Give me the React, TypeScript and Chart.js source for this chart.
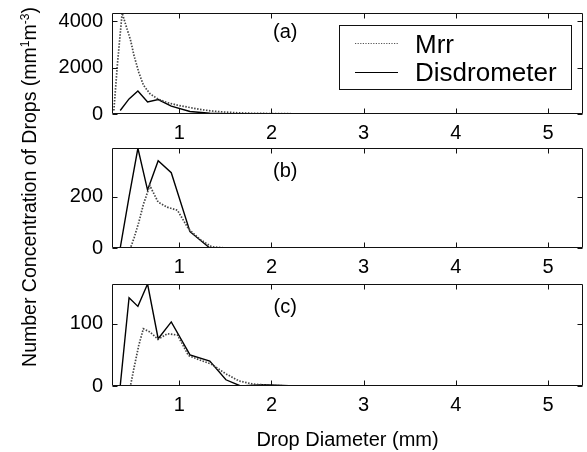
import React, { useEffect, useRef } from "react";
import { Chart, registerables } from "chart.js";
Chart.register(...registerables);

const FONT = "'Liberation Sans', Arial, Helvetica, sans-serif";

// ---- data ----
const xTicks = [1, 2, 3, 4, 5];
const xMin = 0.27;
const xMax = 5.38;

const mrrDiameters = [0.29, 0.33, 0.38, 0.43, 0.47, 0.51, 0.56, 0.61, 0.68, 0.77, 0.87, 0.98, 1.1, 1.22, 1.35, 1.5, 1.65, 1.8, 2.0, 2.2, 2.45, 2.75, 3.1, 3.5, 3.95, 4.4, 4.85];
const disdroDiameters = [0.359, 0.455, 0.551, 0.656, 0.771, 0.913, 1.116, 1.331, 1.506, 1.665, 1.912, 2.259];

const mrrA = [150, 2200, 4350, 3700, 3200, 2500, 1800, 1250, 880, 640, 490, 380, 290, 200, 130, 80, 50, 30, 20, 12, 6, 3, 0, 0, 0, 0, 0];
const mrrB = [0, 0, 0, 0, 0, 40, 100, 170, 245, 180, 160, 148, 75, 35, 5, 0, 0, 0, 0, 0, 0, 0, 0, 0, 0, 0, 0];
const mrrC = [0, 0, 0, 0, 0, 30, 65, 92, 87, 75, 84, 82, 49, 42, 35, 20, 8, 3, 1, 0, 0, 0, 0, 0, 0, 0, 0];

const disdroA = [150, 650, 990, 520, 620, 340, 110, 30, 10, 4, 2, 0];
const disdroB = [0, 200, 391, 227, 342, 295, 64, 0, 0, 0, 0, 0];
const disdroC = [0, 142, 128, 164, 76, 103, 50, 40, 10, 0, 2, 0];

const yTicksA = [0, 2000, 4000];
const yTicksB = [0, 200];
const yTicksC = [0, 100];

const seriesNames = ["Mrr", "Disdrometer"];
const panelLabels = ["(a)", "(b)", "(c)"];

type PanelCfg = {
  top: number;
  height: number;
  padTop: number;
  xHeight: number;
  yMax: number;
  yTicks: number[];
  mrr: number[];
  disdro: number[];
  label: string;
  labelY: number;
  legend: boolean;
  xTitle: boolean;
};

const panels: PanelCfg[] = [
  { top: 0, height: 140, padTop: 13, xHeight: 26, yMax: 4350, yTicks: yTicksA, mrr: mrrA, disdro: disdroA, label: panelLabels[0], labelY: 3530, legend: true, xTitle: false },
  { top: 140, height: 135, padTop: 8, xHeight: 27, yMax: 392, yTicks: yTicksB, mrr: mrrB, disdro: disdroB, label: panelLabels[1], labelY: 298, legend: false, xTitle: false },
  { top: 275, height: 177, padTop: 9, xHeight: 66, yMax: 164, yTicks: yTicksC, mrr: mrrC, disdro: disdroC, label: panelLabels[2], labelY: 127, legend: false, xTitle: true },
];

const W = 587;
const Y_AXIS_W = 112;
const PAD_RIGHT = 4;

function makeFramePlugin(cfg: PanelCfg) {
  return {
    id: "frame",
    afterDraw(chart: any) {
      const { ctx, chartArea: a, scales } = chart;
      const xs = scales.x;
      const ys = scales.y;
      const L = Math.round(a.left) + 0.5;
      const R = Math.round(a.right) - 0.5;
      const T = Math.round(a.top) + 0.5;
      const B = Math.round(a.bottom) - 0.5;
      const tl = 5;
      ctx.save();
      ctx.strokeStyle = "#111";
      ctx.lineWidth = 1;
      ctx.setLineDash([]);
      ctx.beginPath();
      ctx.rect(L, T, R - L, B - T);
      xTicks.forEach((v) => {
        const px = Math.round(xs.getPixelForValue(v)) + 0.5;
        ctx.moveTo(px, B);
        ctx.lineTo(px, B - tl);
        ctx.moveTo(px, T);
        ctx.lineTo(px, T + tl);
      });
      cfg.yTicks.forEach((v) => {
        const py = Math.round(ys.getPixelForValue(v)) + 0.5;
        ctx.moveTo(L, py);
        ctx.lineTo(L + tl, py);
        ctx.moveTo(R, py);
        ctx.lineTo(R - tl, py);
      });
      ctx.stroke();

      // panel label
      ctx.fillStyle = "#000";
      ctx.font = `20px ${FONT}`;
      ctx.textAlign = "center";
      ctx.textBaseline = "middle";
      ctx.fillText(cfg.label, xs.getPixelForValue(2.15), ys.getPixelForValue(cfg.labelY));

      if (cfg.legend) {
        const bw = 232;
        const bh = 64;
        const bx = Math.round(a.right) - 12 - bw;
        const by = Math.round(a.top) + 12;
        ctx.fillStyle = "#fff";
        ctx.fillRect(bx, by, bw, bh);
        ctx.strokeStyle = "#111";
        ctx.lineWidth = 1;
        ctx.strokeRect(bx + 0.5, by + 0.5, bw, bh);
        ctx.beginPath();
        ctx.strokeStyle = "#555";
        ctx.lineWidth = 1.2;
        ctx.setLineDash([1.2, 1.4]);
        ctx.moveTo(bx + 16, by + 18.5);
        ctx.lineTo(bx + 59, by + 18.5);
        ctx.stroke();
        ctx.beginPath();
        ctx.setLineDash([]);
        ctx.strokeStyle = "#000";
        ctx.lineWidth = 1.2;
        ctx.moveTo(bx + 16, by + 47.5);
        ctx.lineTo(bx + 59, by + 47.5);
        ctx.stroke();
        ctx.fillStyle = "#000";
        ctx.font = `26px ${FONT}`;
        ctx.textAlign = "left";
        ctx.textBaseline = "middle";
        ctx.fillText(seriesNames[0], bx + 76, by + 21);
        ctx.fillText(seriesNames[1], bx + 76, by + 49);
      }
      ctx.restore();
    },
  };
}

function Panel({ cfg }: { cfg: PanelCfg }) {
  const ref = useRef<HTMLCanvasElement | null>(null);
  useEffect(() => {
    if (!ref.current) return;
    const chart = new Chart(ref.current, {
      type: "line",
      data: {
        datasets: [
          {
            label: seriesNames[0],
            data: mrrDiameters.map((d, i) => ({ x: d, y: cfg.mrr[i] })),
            borderColor: "#444",
            borderWidth: 1.7,
            borderDash: [1.5, 1.5],
            pointRadius: 0,
            fill: false,
            tension: 0,
          },
          {
            label: seriesNames[1],
            data: disdroDiameters.map((d, i) => ({ x: d, y: cfg.disdro[i] })),
            borderColor: "#000",
            borderWidth: 1.4,
            pointRadius: 0,
            fill: false,
            tension: 0,
          },
        ],
      },
      options: {
        animation: false,
        responsive: false,
        maintainAspectRatio: false,
        devicePixelRatio: 1,
        layout: { padding: { top: cfg.padTop, right: PAD_RIGHT, left: 0, bottom: 0 } },
        plugins: { legend: { display: false }, tooltip: { enabled: false } },
        scales: {
          x: {
            type: "linear",
            min: xMin,
            max: xMax,
            grid: { display: false, drawTicks: false },
            border: { display: false },
            afterBuildTicks: (s: any) => {
              s.ticks = xTicks.map((v) => ({ value: v }));
            },
            afterFit: (s: any) => {
              s.height = cfg.xHeight;
              s.paddingLeft = 0;
              s.paddingRight = 0;
              s.paddingTop = 0;
              s.paddingBottom = 0;
            },
            ticks: {
              autoSkip: false,
              maxRotation: 0,
              padding: 7,
              color: "#000",
              font: { family: FONT, size: 20 },
              callback: (v: any) => String(v),
            },
            title: {
              display: cfg.xTitle,
              text: "Drop Diameter (mm)",
              color: "#000",
              font: { family: FONT, size: 20 },
              padding: { top: 0, bottom: 0 },
            },
          },
          y: {
            type: "linear",
            min: 0,
            max: cfg.yMax,
            grid: { display: false, drawTicks: false },
            border: { display: false },
            afterBuildTicks: (s: any) => {
              s.ticks = cfg.yTicks.map((v) => ({ value: v }));
            },
            afterFit: (s: any) => {
              s.width = Y_AXIS_W;
              s.paddingTop = 0;
              s.paddingBottom = 0;
              s.paddingLeft = 0;
              s.paddingRight = 0;
            },
            ticks: {
              padding: 9,
              color: "#000",
              font: { family: FONT, size: 20 },
              callback: (v: any) => String(v),
            },
          },
        },
      },
      plugins: [makeFramePlugin(cfg)],
    } as any);
    return () => chart.destroy();
  }, [cfg]);
  return (
    <canvas
      ref={ref}
      width={W}
      height={cfg.height}
      style={{ position: "absolute", left: 0, top: cfg.top, width: W, height: cfg.height, display: "block" }}
    />
  );
}

export default function App() {
  return (
    <div style={{ position: "absolute", left: 0, top: 0, width: W, height: 452, background: "#fff", overflow: "hidden" }}>
      {panels.map((p, i) => (
        <Panel key={i} cfg={p} />
      ))}
      <div
        style={{
          position: "absolute",
          left: 29 - 200,
          top: 187 - 12,
          width: 400,
          height: 24,
          lineHeight: "24px",
          textAlign: "center",
          transform: "rotate(-90deg)",
          fontFamily: FONT,
          fontSize: 19.5,
          color: "#000",
          whiteSpace: "nowrap",
        }}
      >
        Number Concentration of Drops (mm
        <sup style={{ fontSize: 12, lineHeight: 0, verticalAlign: "7px" }}>1</sup>
        m
        <sup style={{ fontSize: 12, lineHeight: 0, verticalAlign: "7px" }}>-3</sup>)
      </div>
    </div>
  );
}
